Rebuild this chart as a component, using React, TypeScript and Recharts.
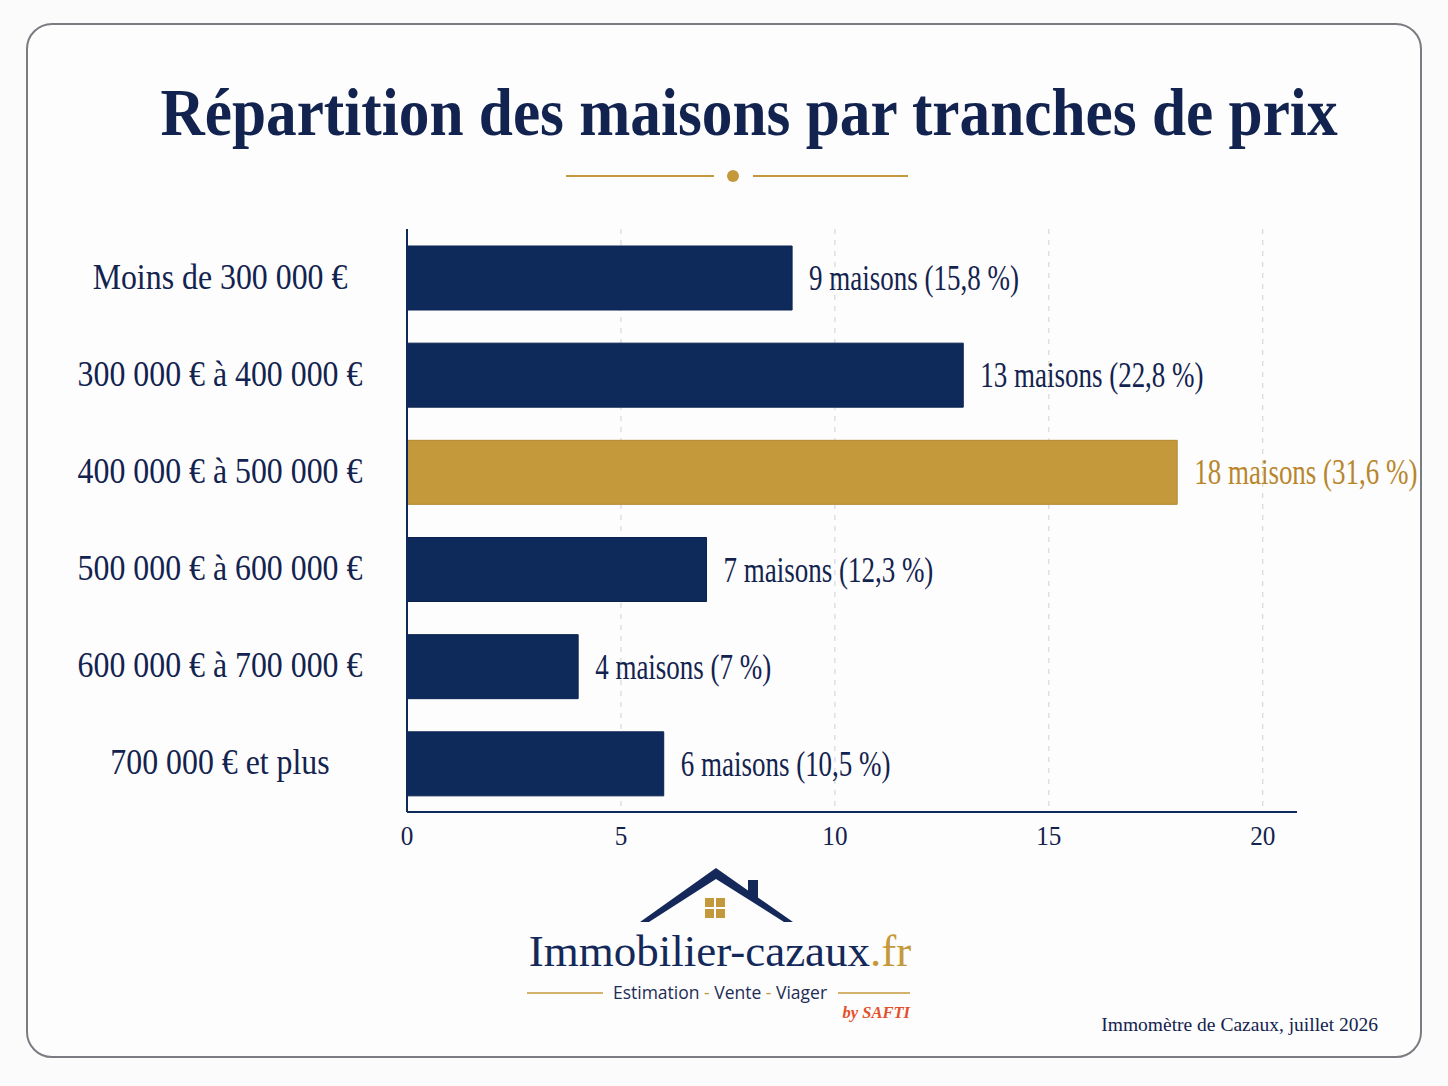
import { BarChart, Bar, XAxis, YAxis, CartesianGrid, Cell, LabelList } from 'recharts';

const ranges = [
  'Moins de 300 000 €',
  '300 000 € à 400 000 €',
  '400 000 € à 500 000 €',
  '500 000 € à 600 000 €',
  '600 000 € à 700 000 €',
  '700 000 € et plus',
];
const counts = [9, 13, 18, 7, 4, 6];
const shares = ['15,8 %', '22,8 %', '31,6 %', '12,3 %', '7 %', '10,5 %'];
const xTicks = [0, 5, 10, 15, 20];
const highlightIndex = 2;

const data = ranges.map((range, i) => ({ range, count: counts[i], share: shares[i] }));

const NAVY = '#0e2a5b';
const TEXT = '#13234f';
const GOLD = '#c4993c';
const GOLD_TEXT = '#b8862c';
const SERIF = '"Liberation Serif", "Times New Roman", serif';

// the reference uses a condensed serif: squeeze Liberation Serif horizontally
const YTick = (props: any) => {
  const { x, y, payload } = props;
  return (
    <text
      transform={`translate(${x - 179}, ${y + 11}) scale(0.91, 1)`}
      textAnchor="middle"
      fontFamily={SERIF}
      fontSize={35}
      fill={TEXT}
    >
      {payload.value}
    </text>
  );
};

const XTick = (props: any) => {
  const { x, y, payload } = props;
  return (
    <text
      transform={`translate(${x}, ${y + 25}) scale(0.9, 1)`}
      textAnchor="middle"
      fontFamily={SERIF}
      fontSize={28}
      fill={TEXT}
    >
      {payload.value}
    </text>
  );
};

const ValueLabel = (props: any) => {
  const { x, y, width, height, index } = props;
  const d = data[index];
  const hl = index === highlightIndex;
  return (
    <text
      transform={`translate(${x + width + 17}, ${y + height / 2 + 12}) scale(0.75, 1)`}
      fontFamily={SERIF}
      fontSize={36}
      fill={hl ? GOLD_TEXT : TEXT}
    >
      {`${d.count} maisons (${d.share})`}
    </text>
  );
};

const App = () => {
  return (
    <div
      style={{
        position: 'absolute',
        left: 0,
        top: 0,
        width: 1448,
        height: 1086,
        background: '#fbfbfb',
        overflow: 'hidden',
      }}
    >
      <div
        style={{
          position: 'absolute',
          left: 26,
          top: 23,
          width: 1392,
          height: 1031,
          border: '2px solid #7a7c82',
          borderRadius: 26,
          background: '#fdfdfd',
        }}
      />

      <div style={{ position: 'absolute', left: 0, top: 0 }}>
        <BarChart
          width={1448}
          height={1086}
          data={data}
          layout="vertical"
          margin={{ top: 229, right: 151, bottom: 234, left: 0 }}
          barSize={64}
        >
          <CartesianGrid horizontal={false} syncWithTicks stroke="#cfd0d4" strokeDasharray="5 6" />
          <XAxis
            type="number"
            domain={[0, 20.8]}
            ticks={xTicks}
            axisLine={{ stroke: NAVY, strokeWidth: 2 }}
            tickLine={false}
            tick={<XTick />}
            height={40}
          />
          <YAxis
            type="category"
            dataKey="range"
            width={407}
            axisLine={{ stroke: NAVY, strokeWidth: 2 }}
            tickLine={false}
            tick={<YTick />}
          />
          <Bar dataKey="count" isAnimationActive={false}>
            {data.map((_, i) => (
              <Cell
                key={i}
                fill={i === highlightIndex ? GOLD : NAVY}
                stroke={i === highlightIndex ? '#b4872e' : '#0a2250'}
                strokeWidth={1}
              />
            ))}
            <LabelList dataKey="count" content={<ValueLabel />} />
          </Bar>
        </BarChart>
      </div>

      <svg width={1448} height={1086} style={{ position: 'absolute', left: 0, top: 0, pointerEvents: 'none' }}>
        <text
          transform="translate(749, 135) scale(0.915, 1)"
          textAnchor="middle"
          fontFamily={SERIF}
          fontWeight={700}
          fontSize={67}
          fill={TEXT}
        >
          Répartition des maisons par tranches de prix
        </text>
        <line x1={566} y1={176} x2={714} y2={176} stroke={GOLD} strokeWidth={2} />
        <line x1={753} y1={176} x2={908} y2={176} stroke={GOLD} strokeWidth={2} />
        <circle cx={733} cy={176} r={6} fill={GOLD} />

        <polygon points="640,922 716,868 793,922 784,922 716,879 649,922" fill="#14295a" />
        <rect x={748} y={880} width={10} height={18} fill="#14295a" />
        <rect x={705} y={898} width={9} height={9} fill={GOLD} />
        <rect x={716} y={898} width={9} height={9} fill={GOLD} />
        <rect x={705} y={909} width={9} height={9} fill={GOLD} />
        <rect x={716} y={909} width={9} height={9} fill={GOLD} />

        <text x={720} y={966} textAnchor="middle" fontFamily={SERIF} fontSize={45} fill="#14295a">
          Immobilier-cazaux<tspan fill={GOLD}>.fr</tspan>
        </text>
        <line x1={527} y1={993} x2={603} y2={993} stroke={GOLD} strokeWidth={1.5} />
        <line x1={838} y1={993} x2={910} y2={993} stroke={GOLD} strokeWidth={1.5} />
        <text x={720} y={999} textAnchor="middle" fontFamily='"Open Sans", sans-serif' fontSize={17.5} fill="#1c2c55">
          Estimation <tspan fill={GOLD}>-</tspan> Vente <tspan fill={GOLD}>-</tspan> Viager
        </text>
        <text x={910} y={1018} textAnchor="end" fontFamily={SERIF} fontStyle="italic" fontWeight={700} fontSize={16.5} fill="#e4502a">
          by SAFTI
        </text>

        <text x={1378} y={1031} textAnchor="end" fontFamily={SERIF} fontSize={19.5} fill={TEXT}>
          Immomètre de Cazaux, juillet 2026
        </text>
      </svg>
    </div>
  );
};

export default App;
